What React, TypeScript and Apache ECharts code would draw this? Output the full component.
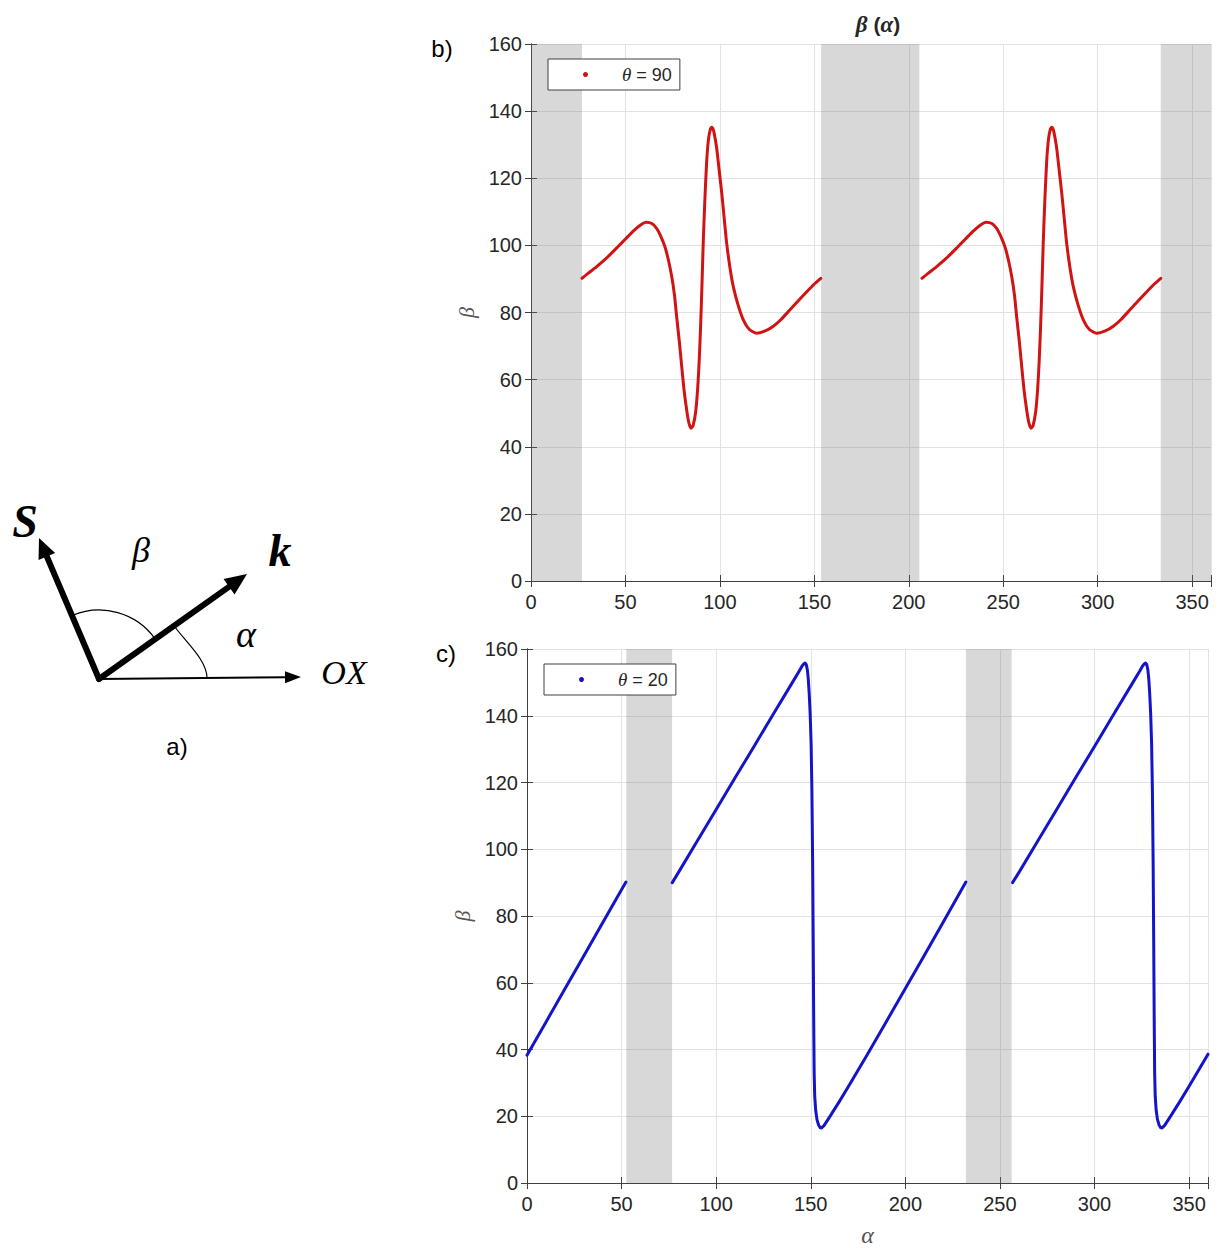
import React, { useEffect, useRef } from "react";
import * as echarts from "echarts";

// ---------- data ----------
const xTickLabels = [0, 50, 100, 150, 200, 250, 300, 350];
const yTickLabels = [0, 20, 40, 60, 80, 100, 120, 140, 160];

// panel b) theta = 90 : beta(alpha), two branches
const bBranch1: number[][] = [
  [27, 90.2], [30, 91.6], [34, 93.3], [38, 95.2], [42, 97.3], [46, 99.6], [50, 101.9], [54, 104.2],
  [58, 106.1], [61, 106.9], [64, 106.5], [66.5, 105.1], [68.5, 103], [70.9, 99.6], [72.8, 95.5],
  [74.5, 90.7], [76, 85], [77.1, 78.8], [78.5, 71.5], [79.8, 63.9], [81, 57], [82.4, 51], [83.5, 47.3],
  [84.7, 45.5], [85.8, 46.3], [87.2, 50.5], [88.2, 57], [89, 65], [89.8, 76], [90.5, 88], [91.2, 101],
  [92, 113], [93, 125], [94, 131.8], [95, 134.7], [95.7, 135.2], [96.6, 134.3], [97.5, 131.8],
  [98.3, 129], [99.5, 123], [101, 115.5], [102.3, 108], [103.6, 100.6], [105.3, 93.5], [107.1, 87.7],
  [109.5, 82.5], [112.4, 77.8], [115.5, 75], [119.5, 73.8], [124, 74.5], [128.3, 75.9], [132.5, 78],
  [137.1, 80.8], [141.5, 83.5], [146, 86.2], [150, 88.5], [153.4, 90.2],
];
const bBranch2: number[][] = [
  [207, 90.2], [210, 91.6], [214, 93.3], [218, 95.2], [222, 97.3], [226, 99.6], [230, 101.9], [234, 104.2],
  [238, 106.1], [241, 106.9], [244, 106.5], [246.5, 105.1], [248.5, 103], [250.9, 99.6], [252.8, 95.5],
  [254.5, 90.7], [256, 85], [257.1, 78.8], [258.5, 71.5], [259.8, 63.9], [261, 57], [262.4, 51], [263.5, 47.3],
  [264.7, 45.5], [265.8, 46.3], [267.2, 50.5], [268.2, 57], [269, 65], [269.8, 76], [270.5, 88], [271.2, 101],
  [272, 113], [273, 125], [274, 131.8], [275, 134.7], [275.7, 135.2], [276.6, 134.3], [277.5, 131.8],
  [278.3, 129], [279.5, 123], [281, 115.5], [282.3, 108], [283.6, 100.6], [285.3, 93.5], [287.1, 87.7],
  [289.5, 82.5], [292.4, 77.8], [295.5, 75], [299.5, 73.8], [304, 74.5], [308.3, 75.9], [312.5, 78],
  [317.1, 80.8], [321.5, 83.5], [326, 86.2], [330, 88.5], [333.4, 90.2],
];
const bShaded: number[][] = [[0, 27], [153.6, 205.6], [333.4, 360]];

// panel c) theta = 20
const cBranch1: number[][] = [
  [0, 38.3], [10, 48.2], [20, 58.1], [30, 68], [40, 78], [52.3, 90.2],
];
const cBranch2: number[][] = [
  [76.8, 90], [80, 93], [90, 102.5], [100, 111.9], [110, 121.4], [120, 130.8], [130, 140.3],
  [140, 149.7], [144, 153.5], [145.5, 155], [146.4, 155.6], [147, 155.8], [147.6, 155.4], [148.2, 153.8],
  [148.7, 151], [149.2, 146.5], [149.7, 140.5], [150.2, 131.5], [150.6, 118], [151, 96], [151.3, 72],
  [151.55, 50], [151.8, 33], [152.1, 26], [152.6, 21.8], [153.3, 19], [154.2, 17.3], [155, 16.6],
  [155.7, 16.5], [157, 17.2], [160, 19.8], [165, 24.3], [170, 29], [180, 38.6], [190, 48.4],
  [200, 58.3], [210, 68.2], [220, 78.1], [232, 90.2],
];
const cBranch3: number[][] = [
  [256.7, 90], [260, 93], [270, 102.5], [280, 111.9], [290, 121.4], [300, 130.8], [310, 140.3],
  [320, 149.7], [324, 153.5], [325.5, 155], [326.4, 155.6], [327, 155.8], [327.6, 155.4], [328.2, 153.8],
  [328.7, 151], [329.2, 146.5], [329.7, 140.5], [330.2, 131.5], [330.6, 118], [331, 96], [331.3, 72],
  [331.55, 50], [331.8, 33], [332.1, 26], [332.6, 21.8], [333.3, 19], [334.2, 17.3], [335, 16.6],
  [335.7, 16.5], [337, 17.2], [340, 19.8], [345, 24.3], [350, 29], [360, 38.6],
];
const cShaded: number[][] = [[52.5, 76.7], [232, 256.2]];

const bName = "θ = 90";
const cName = "θ = 20";

// ---------- styles ----------
const AX = "#404040";
const TXT = "#262626";
const GRIDC = "#e2e2e2";
const RED = "#d01414";
const BLUE = "#1414c8";
const SANS = "Liberation Sans, Arial, sans-serif";
const SERIF = "Liberation Serif, DejaVu Serif, serif";

function xAxesFor(gridIndex: number) {
  const common = {
    type: "value", gridIndex, min: 0, max: 360, interval: 50,
    axisLine: { show: true, lineStyle: { color: AX, width: 1 } },
    axisTick: { show: true, inside: true, length: 6, lineStyle: { color: AX } },
  };
  return [
    {
      ...common, position: "bottom",
      axisLabel: {
        show: true, margin: 11, fontSize: 20, fontFamily: SANS, color: TXT,
        formatter: (v: number) => (xTickLabels.includes(v) ? String(v) : ""),
      },
      splitLine: { show: true, lineStyle: { color: GRIDC, width: 1 } },
    },
    { ...common, position: "top", axisLabel: { show: false }, splitLine: { show: false } },
  ];
}
function yAxesFor(gridIndex: number) {
  const common = {
    type: "value", gridIndex, min: 0, max: 160, interval: 20,
    axisLine: { show: true, lineStyle: { color: AX, width: 1 } },
    axisTick: { show: true, inside: true, length: 6, lineStyle: { color: AX } },
  };
  return [
    {
      ...common, position: "left",
      name: "β", nameLocation: "middle", nameGap: 50, nameRotate: 90,
      nameTextStyle: { fontFamily: SERIF, fontStyle: "italic", fontSize: 22, color: "#555" },
      axisLabel: {
        show: true, margin: 9, fontSize: 20, fontFamily: SANS, color: TXT,
        formatter: (v: number) => (yTickLabels.includes(v) ? String(v) : ""),
      },
      splitLine: { show: true, lineStyle: { color: GRIDC, width: 1 } },
    },
    { ...common, position: "right", axisLabel: { show: false }, splitLine: { show: false } },
  ];
}

function lineSeries(name: string, data: number[][], color: string, xi: number, yi: number, smooth: number | boolean, shaded?: number[][]) {
  const s: any = {
    type: "line", name, data, xAxisIndex: xi, yAxisIndex: yi,
    showSymbol: false, symbol: "circle", smooth,
    lineStyle: { color, width: 3, join: "round", cap: "round" }, itemStyle: { color },
    z: 3,
  };
  if (shaded) {
    s.markArea = {
      silent: true,
      itemStyle: { color: "rgba(110,110,110,0.27)" },
      data: shaded.map(([a, b]) => [{ xAxis: a }, { xAxis: b }]),
    };
  }
  return s;
}

// ---------- diagram helpers ----------
function arrow(ox: number, oy: number, tx: number, ty: number, headLen: number, headHalf: number, width: number) {
  const dx = tx - ox, dy = ty - oy;
  const L = Math.hypot(dx, dy);
  const ux = dx / L, uy = dy / L;
  const bx = tx - ux * headLen, by = ty - uy * headLen;
  const nx = -uy, ny = ux;
  return [
    {
      type: "line", shape: { x1: ox, y1: oy, x2: bx + ux * 2, y2: by + uy * 2 },
      style: { stroke: "#000", lineWidth: width, lineCap: width > 3 ? "round" : "butt" },
    },
    {
      type: "polygon",
      shape: { points: [[tx, ty], [bx + nx * headHalf, by + ny * headHalf], [bx - nx * headHalf, by - ny * headHalf]] },
      style: { fill: "#000" },
    },
  ];
}

function buildGraphic() {
  const O = [99, 679];
  const S = [39, 538];
  const K = [247, 574];
  const OX = [301, 677];
  const aS = Math.atan2(S[1] - O[1], S[0] - O[0]);
  const aK = Math.atan2(K[1] - O[1], K[0] - O[0]);
  const ku = [Math.cos(aK), Math.sin(aK)];
  const r2 = 92;
  const st = [O[0] + ku[0] * r2, O[1] + ku[1] * r2];
  const els: any[] = [
    ...arrow(O[0], O[1], OX[0], OX[1], 16, 6, 2),
    ...arrow(O[0], O[1], S[0], S[1], 20, 9, 6),
    ...arrow(O[0], O[1], K[0], K[1], 22, 9.5, 6),
    {
      type: "arc",
      shape: { cx: O[0], cy: O[1], r: 69, startAngle: aS, endAngle: aK, clockwise: true },
      style: { stroke: "#000", lineWidth: 1.2, fill: null },
    },
    {
      type: "bezierCurve",
      shape: {
        x1: st[0], y1: st[1],
        cpx1: st[0] - ku[1] * 20, cpy1: st[1] + ku[0] * 20,
        cpx2: 207, cpy2: 660,
        x2: 207, y2: 678,
      },
      style: { stroke: "#000", lineWidth: 1.2, fill: null },
    },
    { type: "text", x: 25, y: 521, style: { text: "S", font: `bold italic 46px ${SERIF}`, fill: "#000", align: "center", verticalAlign: "middle" } },
    { type: "text", x: 141, y: 550, style: { text: "β", font: `italic 36px ${SERIF}`, fill: "#000", align: "center", verticalAlign: "middle" } },
    { type: "text", x: 280, y: 550, style: { text: "k", font: `bold italic 46px ${SERIF}`, fill: "#000", align: "center", verticalAlign: "middle" } },
    { type: "text", x: 246, y: 634, style: { text: "α", font: `italic 38px ${SERIF}`, fill: "#000", align: "center", verticalAlign: "middle" } },
    { type: "text", x: 344, y: 672, style: { text: "OX", font: `italic 34px ${SERIF}`, fill: "#000", align: "center", verticalAlign: "middle" } },
    { type: "text", x: 177, y: 746, style: { text: "a)", font: `24px ${SANS}`, fill: "#000", align: "center", verticalAlign: "middle" } },
    { type: "text", x: 442, y: 48, style: { text: "b)", font: `24px ${SANS}`, fill: "#000", align: "center", verticalAlign: "middle" } },
    { type: "text", x: 446, y: 653, style: { text: "c)", font: `24px ${SANS}`, fill: "#000", align: "center", verticalAlign: "middle" } },
  ];
  return els;
}

function legendFor(name: string, left: number, top: number) {
  return {
    data: [name], left, top, orient: "horizontal",
    padding: [6, 8, 6, 35], itemWidth: 5, itemHeight: 5, icon: "circle",
    borderColor: AX, borderWidth: 1, backgroundColor: "#fff", borderRadius: 0,
    selectedMode: false,
    formatter: (n: string) => n.replace("θ", "{i|θ}"),
    textStyle: {
      fontFamily: SANS, fontSize: 18, color: TXT, padding: [0, 0, 0, 29],
      rich: { i: { fontFamily: SERIF, fontStyle: "italic", fontSize: 19, color: TXT } },
    },
  };
}

export default function App() {
  const ref = useRef<HTMLDivElement>(null);
  useEffect(() => {
    if (!ref.current) return;
    const chart = echarts.init(ref.current, undefined, { renderer: "svg" });
    const xb = xAxesFor(0);
    const xc = xAxesFor(1);
    const yb = yAxesFor(0);
    const yc = yAxesFor(1);
    (xc[0] as any).name = "α";
    (xc[0] as any).nameLocation = "middle";
    (xc[0] as any).nameGap = 40;
    (xc[0] as any).nameTextStyle = { fontFamily: SERIF, fontStyle: "italic", fontSize: 24, color: "#555" };
    (yc[0] as any).nameGap = 52;
    chart.setOption({
      animation: false,
      backgroundColor: "#fff",
      title: {
        text: "{i|β} ({i|α})",
        left: 873, top: 8, textAlign: "center",
        textStyle: {
          fontFamily: SANS, fontWeight: "bold", fontSize: 21, color: TXT,
          rich: { i: { fontFamily: SERIF, fontStyle: "italic", fontWeight: "bold", fontSize: 23, color: TXT } },
        },
      },
      grid: [
        { left: 531, top: 44, width: 680, height: 537, containLabel: false },
        { left: 527, top: 649, width: 681, height: 537, containLabel: false },
      ],
      xAxis: [...xb, ...xc],
      yAxis: [...yb, ...yc],
      legend: [legendFor(bName, 548, 59), legendFor(cName, 544, 664)],
      series: [
        lineSeries(bName, bBranch1, RED, 0, 0, 0.2, bShaded),
        lineSeries(bName, bBranch2, RED, 0, 0, 0.2),
        lineSeries(cName, cBranch1, BLUE, 2, 2, false, cShaded),
        lineSeries(cName, cBranch2, BLUE, 2, 2, false),
        lineSeries(cName, cBranch3, BLUE, 2, 2, false),
      ],
      graphic: buildGraphic(),
    });
    return () => chart.dispose();
  }, []);
  return (
    <div
      ref={ref}
      style={{ position: "absolute", left: 0, top: 0, width: 1222, height: 1248, background: "#fff" }}
    />
  );
}
